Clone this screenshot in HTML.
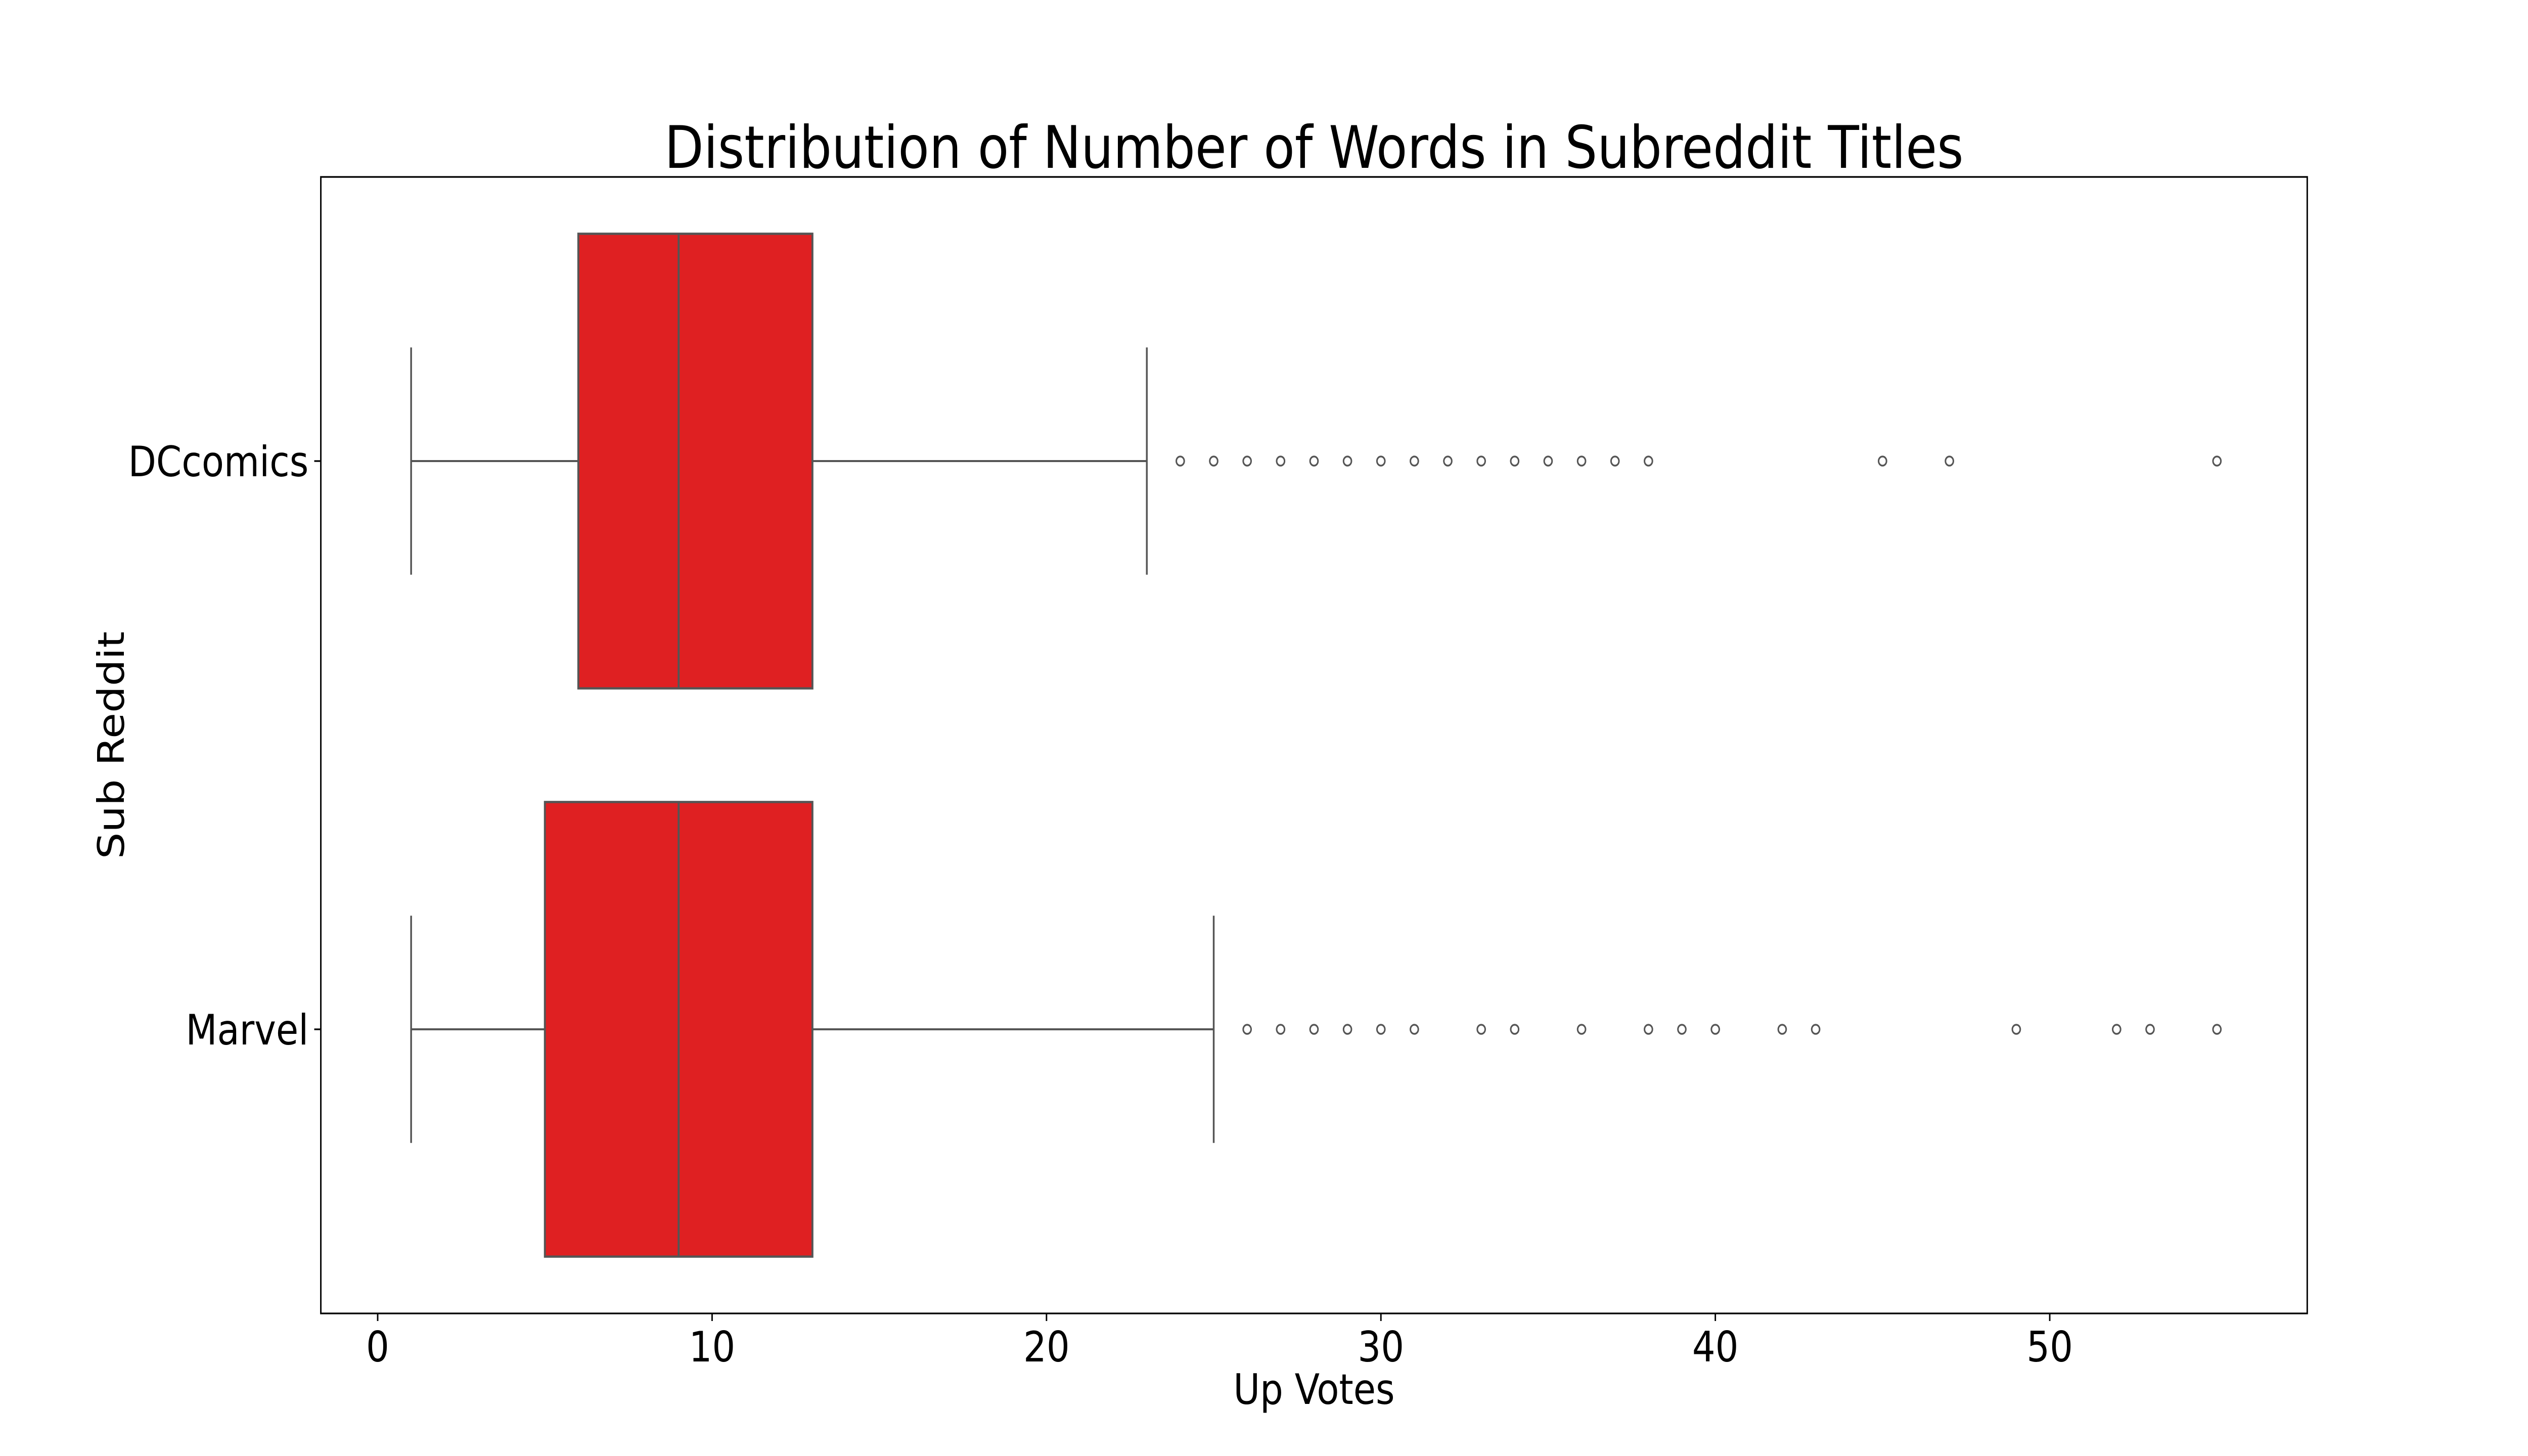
<!DOCTYPE html>
<html><head><meta charset="utf-8"><style>
html,body{margin:0;padding:0;background:#fff;width:100%;height:100%;overflow:hidden;}
svg{display:block;width:100vw;height:100vh;font-family:"DejaVu Sans","Liberation Sans",sans-serif;}
</style></head><body>
<svg id="chart" viewBox="0 0 5760 2880" preserveAspectRatio="none" xmlns="http://www.w3.org/2000/svg">
<rect x="0" y="0" width="5760" height="2880" fill="#fff"/>
<text x="2994" y="332" font-size="116" text-anchor="middle" fill="#000">Distribution of Number of Words in Subreddit Titles</text>
<g id="plot"></g>
<rect x="731" y="350" width="4526" height="2248" fill="none" stroke="#000" stroke-width="3.3"/>
<text x="2994" y="2777" font-size="83" text-anchor="middle" fill="#000">Up Votes</text>
<text x="0" y="0" font-size="83" text-anchor="middle" fill="#000" transform="translate(282,1474) rotate(-90)">Sub Reddit</text>
</svg>
<script>
const categories = ["DCcomics", "Marvel"];
const whiskerLow = [1, 1];
const q1 = [6, 5];
const median = [9, 9];
const q3 = [13, 13];
const whiskerHigh = [23, 25];
const outliersDC = [24,25,26,27,28,29,30,31,32,33,34,35,36,37,38,45,47,55];
const outliersMarvel = [26,27,28,29,30,31,33,34,36,38,39,40,42,43,49,52,53,55];
const xTicks = [0, 10, 20, 30, 40, 50];

const L = 731, R = 5257, T = 350, B = 2598;
const xMin = -1.7, xMax = 57.7;
function xs(v){ return L + (v - xMin) / (xMax - xMin) * (R - L); }
function ys(i){ return T + (i + 0.5) / 2 * (B - T); }
const unitY = (B - T) / 2;
const NS = "http://www.w3.org/2000/svg";
const g = document.getElementById('plot');
function mk(tag, attrs){ const e = document.createElementNS(NS, tag); for (const k in attrs) e.setAttribute(k, attrs[k]); g.appendChild(e); return e; }
const gray = "#555";
const outliers = [outliersDC, outliersMarvel];

categories.forEach((c, i) => {
  const cy = ys(i);
  const h = 0.8 * unitY;
  let e;
  e = mk('line', {x1: xs(whiskerLow[i]), x2: xs(q1[i]), y1: cy, y2: cy, stroke: gray, 'stroke-width': 4});
  
  
  e = mk('line', {x1: xs(q3[i]), x2: xs(whiskerHigh[i]), y1: cy, y2: cy, stroke: gray, 'stroke-width': 4});
  
  
  e = mk('line', {x1: xs(whiskerLow[i]), x2: xs(whiskerLow[i]), y1: cy - h/4, y2: cy + h/4, stroke: gray, 'stroke-width': 4});
  
  
  e = mk('line', {x1: xs(whiskerHigh[i]), x2: xs(whiskerHigh[i]), y1: cy - h/4, y2: cy + h/4, stroke: gray, 'stroke-width': 4});
  
  
  e = mk('rect', {x: xs(q1[i]), y: cy - h/2, width: xs(q3[i]) - xs(q1[i]), height: h, fill: "#df2022", stroke: gray, 'stroke-width': 4.5});
  
  
  e = mk('line', {x1: xs(median[i]), x2: xs(median[i]), y1: cy - h/2, y2: cy + h/2, stroke: gray, 'stroke-width': 4.5});
  
  
  outliers[i].forEach(v => {
    const o = mk('circle', {cx: xs(v), cy: cy, r: 9, fill: "none", stroke: gray, 'stroke-width': 3.5});
    
    
  });
  const t = mk('line', {x1: L - 15, x2: L, y1: cy, y2: cy, stroke: "#000", 'stroke-width': 3.3});
  
  
  const lab = mk('text', {x: L - 28, y: cy + 30, 'font-size': 83, 'text-anchor': 'end', fill: '#000'});
  lab.textContent = c;
  
  
});

xTicks.forEach(v => {
  const t = mk('line', {x1: xs(v), x2: xs(v), y1: B, y2: B + 15, stroke: "#000", 'stroke-width': 3.3});
  
  
  const lab = mk('text', {x: xs(v), y: 2693, 'font-size': 83, 'text-anchor': 'middle', fill: '#000'});
  lab.textContent = String(v);
  
  
});
</script>
</body></html>
